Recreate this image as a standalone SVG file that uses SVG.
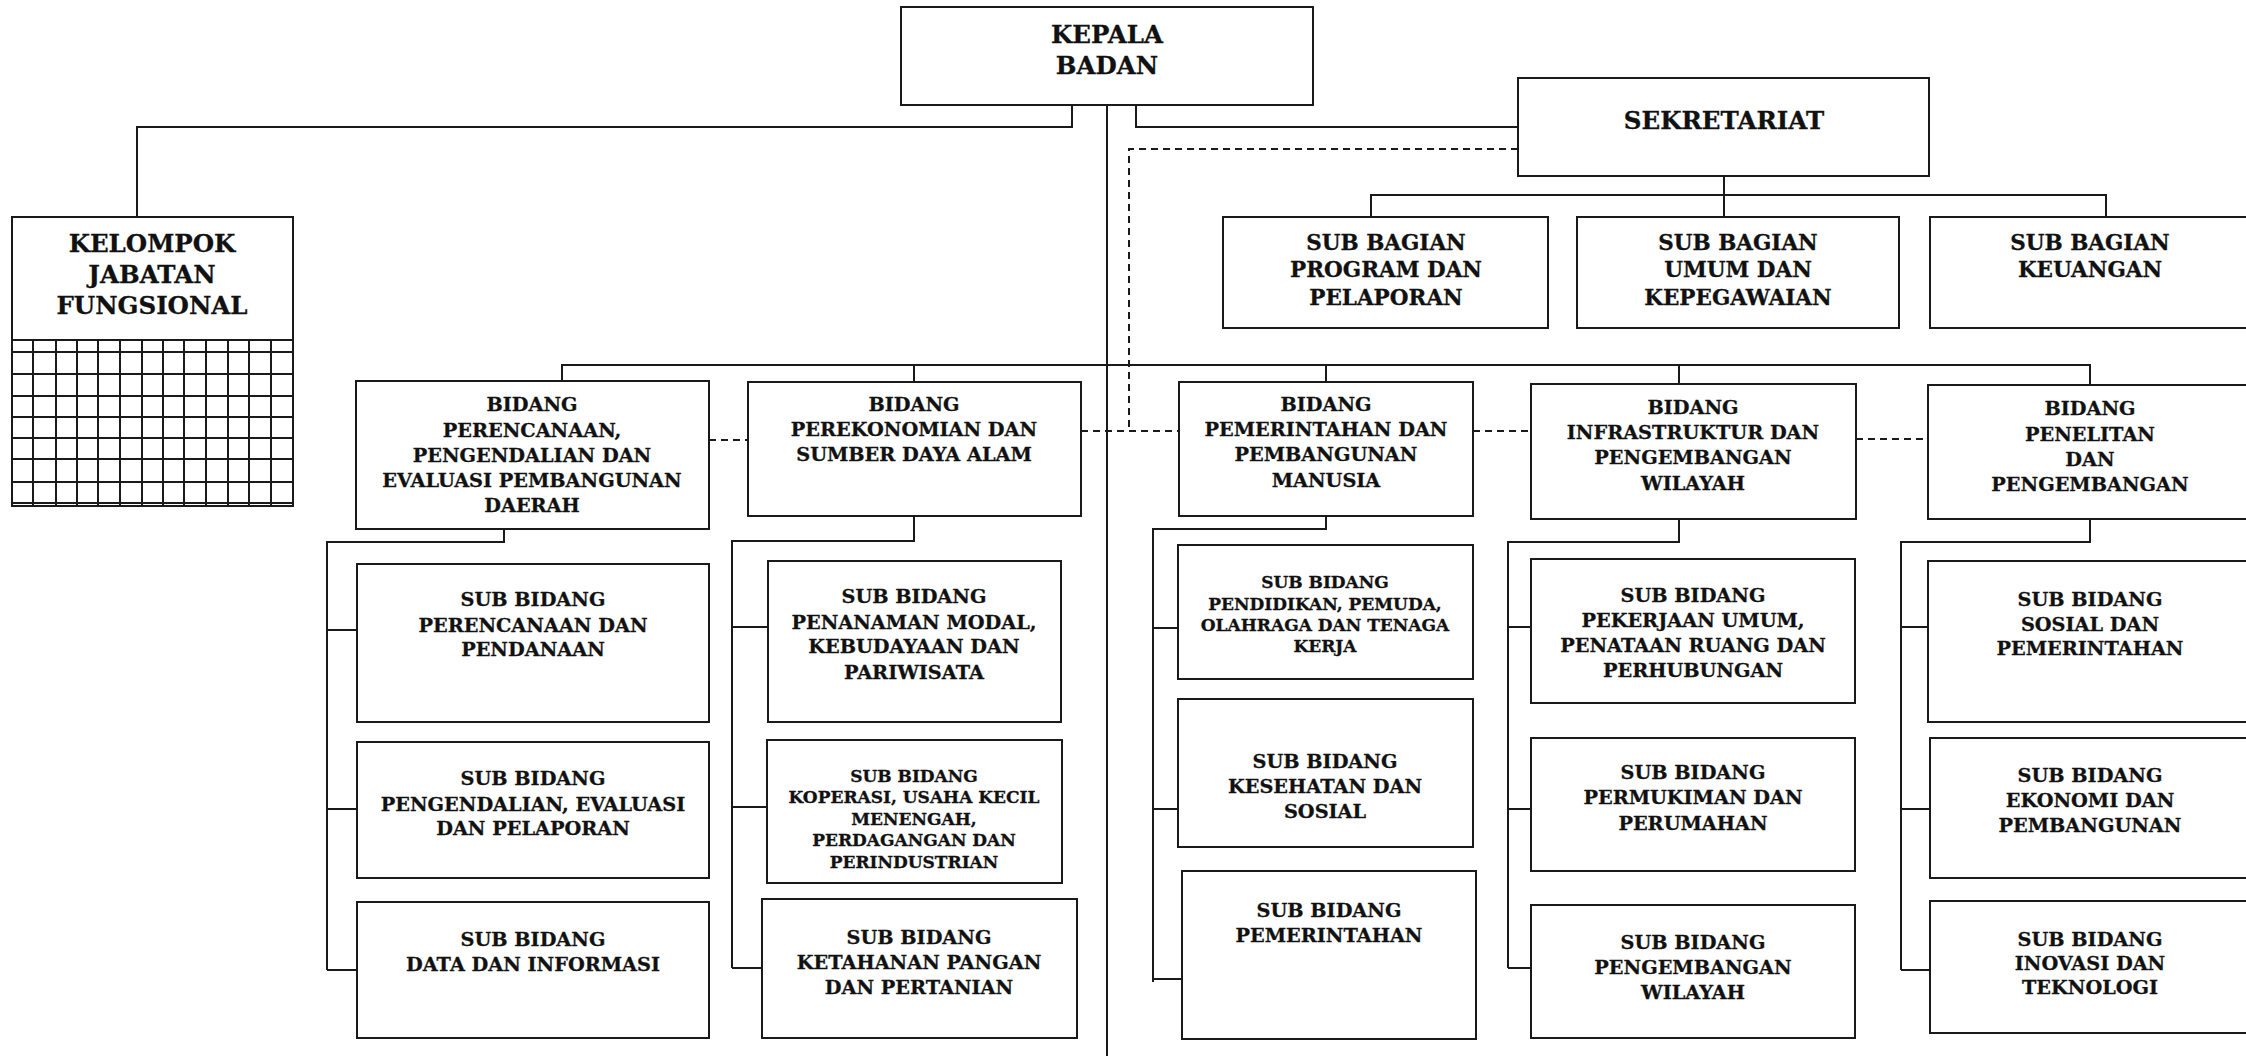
<svg xmlns="http://www.w3.org/2000/svg" width="2246" height="1056" viewBox="0 0 2246 1056">
<style>
.box{fill:#fff;stroke:#1a1a1a;stroke-width:2}
.t{font-family:"DejaVu Serif","Liberation Serif",serif;font-weight:bold;text-anchor:middle;fill:#111;stroke:#111;stroke-width:0.3}
.xl{font-size:24.5px}
.lg{font-size:21.5px}
.md{font-size:19.3px}
.sm{font-size:17px}
.ln{stroke:#1a1a1a;stroke-width:2;fill:none}
.dl{stroke:#1a1a1a;stroke-width:2;fill:none;stroke-dasharray:7 5}
.gr{stroke:#1a1a1a;stroke-width:2;fill:none}
</style>
<rect width="2246" height="1056" fill="#fff"/>

<g id="connectors">
  <path class="ln" d="M1107 105V1056"/>
  <path class="ln" d="M1072 105V127H137V217"/>
  <path class="ln" d="M1136 105V127H1518"/>
  <path class="dl" d="M1518 149H1129V431"/>
  <path class="ln" d="M1724 176V195"/>
  <path class="ln" d="M1371 217V195H2106V217"/>
  <path class="ln" d="M1724 195V217"/>
  <path class="ln" d="M562 381V365H2090V385"/>
  <path class="ln" d="M914 365V382"/>
  <path class="ln" d="M1326 365V382"/>
  <path class="ln" d="M1679 365V384"/>
  <path class="dl" d="M709 440H748"/>
  <path class="dl" d="M1081 431H1179"/>
  <path class="dl" d="M1473 431H1531"/>
  <path class="dl" d="M1856 439H1928"/>
  <path class="ln" d="M504 529V542H327V970"/>
  <path class="ln" d="M327 630H357M327 809H357M327 970H357"/>
  <path class="ln" d="M914 516V541H732V968"/>
  <path class="ln" d="M732 627H768M732 807H767M732 968H762"/>
  <path class="ln" d="M1326 516V529H1153V982"/>
  <path class="ln" d="M1153 628H1178M1153 809H1178M1153 979H1182"/>
  <path class="ln" d="M1679 519V542H1508V968"/>
  <path class="ln" d="M1508 627H1531M1508 809H1531M1508 968H1531"/>
  <path class="ln" d="M2090 519V542H1901V970"/>
  <path class="ln" d="M1901 627H1928M1901 809H1930M1901 970H1930"/>
</g>

<g id="kepala-badan">
  <rect class="box" x="901" y="7" width="412" height="98"/>
  <text class="t xl" x="1107" y="43">KEPALA</text>
  <text class="t xl" x="1107" y="74">BADAN</text>
</g>

<g id="kelompok-jabatan-fungsional">
  <rect class="box" x="12" y="217" width="281" height="289"/>
  <text class="t xl" x="152" y="252">KELOMPOK</text>
  <text class="t xl" x="152" y="283">JABATAN</text>
  <text class="t xl" x="152" y="314">FUNGSIONAL</text>
  <path class="gr" d="M12 340H293M12 352H293M12 374H293M12 396H293M12 417H293M12 438H293M12 459H293M12 482H293M12 503H293"/>
  <path class="gr" d="M33 340V506M56 340V506M77 340V506M98 340V506M120 340V506M142 340V506M163 340V506M184 340V506M206 340V506M228 340V506M249 340V506M271 340V506"/>
</g>

<g id="sekretariat">
  <rect class="box" x="1518" y="78" width="411" height="98"/>
  <text class="t xl" x="1724" y="129">SEKRETARIAT</text>
</g>

<g id="sub-bagian-program">
  <rect class="box" x="1223" y="217" width="325" height="111"/>
  <text class="t lg" x="1386" y="250">SUB BAGIAN</text>
  <text class="t lg" x="1386" y="277">PROGRAM DAN</text>
  <text class="t lg" x="1386" y="305">PELAPORAN</text>
</g>
<g id="sub-bagian-umum">
  <rect class="box" x="1577" y="217" width="322" height="111"/>
  <text class="t lg" x="1738" y="250">SUB BAGIAN</text>
  <text class="t lg" x="1738" y="277">UMUM DAN</text>
  <text class="t lg" x="1738" y="305">KEPEGAWAIAN</text>
</g>
<g id="sub-bagian-keuangan">
  <rect class="box" x="1930" y="217" width="330" height="111"/>
  <text class="t lg" x="2090" y="250">SUB BAGIAN</text>
  <text class="t lg" x="2090" y="277">KEUANGAN</text>
</g>

<g id="bidang-perencanaan">
  <rect class="box" x="356" y="381" width="353" height="148"/>
  <text class="t md" x="532" y="411">BIDANG</text>
  <text class="t md" x="532" y="437">PERENCANAAN,</text>
  <text class="t md" x="532" y="462">PENGENDALIAN DAN</text>
  <text class="t md" x="532" y="487">EVALUASI PEMBANGUNAN</text>
  <text class="t md" x="532" y="512">DAERAH</text>
</g>
<g id="bidang-perekonomian">
  <rect class="box" x="748" y="382" width="333" height="134"/>
  <text class="t md" x="914" y="411">BIDANG</text>
  <text class="t md" x="914" y="436">PEREKONOMIAN DAN</text>
  <text class="t md" x="914" y="461">SUMBER DAYA ALAM</text>
</g>
<g id="bidang-pemerintahan">
  <rect class="box" x="1179" y="382" width="294" height="134"/>
  <text class="t md" x="1326" y="411">BIDANG</text>
  <text class="t md" x="1326" y="436">PEMERINTAHAN DAN</text>
  <text class="t md" x="1326" y="461">PEMBANGUNAN</text>
  <text class="t md" x="1326" y="487">MANUSIA</text>
</g>
<g id="bidang-infrastruktur">
  <rect class="box" x="1531" y="384" width="325" height="135"/>
  <text class="t md" x="1693" y="414">BIDANG</text>
  <text class="t md" x="1693" y="439">INFRASTRUKTUR DAN</text>
  <text class="t md" x="1693" y="464">PENGEMBANGAN</text>
  <text class="t md" x="1693" y="490">WILAYAH</text>
</g>
<g id="bidang-penelitan">
  <rect class="box" x="1928" y="385" width="330" height="134"/>
  <text class="t md" x="2090" y="415">BIDANG</text>
  <text class="t md" x="2090" y="441">PENELITAN</text>
  <text class="t md" x="2090" y="466">DAN</text>
  <text class="t md" x="2090" y="491">PENGEMBANGAN</text>
</g>

<g id="sub-bidang-perencanaan-pendanaan">
  <rect class="box" x="357" y="564" width="352" height="158"/>
  <text class="t md" x="533" y="606">SUB BIDANG</text>
  <text class="t md" x="533" y="632">PERENCANAAN DAN</text>
  <text class="t md" x="533" y="656">PENDANAAN</text>
</g>
<g id="sub-bidang-pengendalian">
  <rect class="box" x="357" y="742" width="352" height="136"/>
  <text class="t md" x="533" y="785">SUB BIDANG</text>
  <text class="t md" x="533" y="811">PENGENDALIAN, EVALUASI</text>
  <text class="t md" x="533" y="835">DAN PELAPORAN</text>
</g>
<g id="sub-bidang-data">
  <rect class="box" x="357" y="902" width="352" height="136"/>
  <text class="t md" x="533" y="946">SUB BIDANG</text>
  <text class="t md" x="533" y="971">DATA DAN INFORMASI</text>
</g>

<g id="sub-bidang-penanaman-modal">
  <rect class="box" x="768" y="561" width="293" height="161"/>
  <text class="t md" x="914" y="603">SUB BIDANG</text>
  <text class="t md" x="914" y="629">PENANAMAN MODAL,</text>
  <text class="t md" x="914" y="653">KEBUDAYAAN DAN</text>
  <text class="t md" x="914" y="679">PARIWISATA</text>
</g>
<g id="sub-bidang-koperasi">
  <rect class="box" x="767" y="740" width="295" height="143"/>
  <text class="t sm" x="914" y="782">SUB BIDANG</text>
  <text class="t sm" x="914" y="803">KOPERASI, USAHA KECIL</text>
  <text class="t sm" x="914" y="825">MENENGAH,</text>
  <text class="t sm" x="914" y="846">PERDAGANGAN DAN</text>
  <text class="t sm" x="914" y="868">PERINDUSTRIAN</text>
</g>
<g id="sub-bidang-ketahanan-pangan">
  <rect class="box" x="762" y="899" width="315" height="139"/>
  <text class="t md" x="919" y="944">SUB BIDANG</text>
  <text class="t md" x="919" y="969">KETAHANAN PANGAN</text>
  <text class="t md" x="919" y="994">DAN PERTANIAN</text>
</g>

<g id="sub-bidang-pendidikan">
  <rect class="box" x="1178" y="545" width="295" height="134"/>
  <text class="t sm" x="1325" y="588">SUB BIDANG</text>
  <text class="t sm" x="1325" y="610">PENDIDIKAN, PEMUDA,</text>
  <text class="t sm" x="1325" y="631">OLAHRAGA DAN TENAGA</text>
  <text class="t sm" x="1325" y="652">KERJA</text>
</g>
<g id="sub-bidang-kesehatan">
  <rect class="box" x="1178" y="699" width="295" height="148"/>
  <text class="t md" x="1325" y="768">SUB BIDANG</text>
  <text class="t md" x="1325" y="793">KESEHATAN DAN</text>
  <text class="t md" x="1325" y="818">SOSIAL</text>
</g>
<g id="sub-bidang-pemerintahan">
  <rect class="box" x="1182" y="871" width="294" height="168"/>
  <text class="t md" x="1329" y="917">SUB BIDANG</text>
  <text class="t md" x="1329" y="942">PEMERINTAHAN</text>
</g>

<g id="sub-bidang-pekerjaan-umum">
  <rect class="box" x="1531" y="559" width="324" height="144"/>
  <text class="t md" x="1693" y="602">SUB BIDANG</text>
  <text class="t md" x="1693" y="627">PEKERJAAN UMUM,</text>
  <text class="t md" x="1693" y="652">PENATAAN RUANG DAN</text>
  <text class="t md" x="1693" y="677">PERHUBUNGAN</text>
</g>
<g id="sub-bidang-permukiman">
  <rect class="box" x="1531" y="738" width="324" height="133"/>
  <text class="t md" x="1693" y="779">SUB BIDANG</text>
  <text class="t md" x="1693" y="804">PERMUKIMAN DAN</text>
  <text class="t md" x="1693" y="830">PERUMAHAN</text>
</g>
<g id="sub-bidang-pengembangan-wilayah">
  <rect class="box" x="1531" y="905" width="324" height="133"/>
  <text class="t md" x="1693" y="949">SUB BIDANG</text>
  <text class="t md" x="1693" y="974">PENGEMBANGAN</text>
  <text class="t md" x="1693" y="999">WILAYAH</text>
</g>

<g id="sub-bidang-sosial">
  <rect class="box" x="1928" y="561" width="330" height="161"/>
  <text class="t md" x="2090" y="606">SUB BIDANG</text>
  <text class="t md" x="2090" y="631">SOSIAL DAN</text>
  <text class="t md" x="2090" y="655">PEMERINTAHAN</text>
</g>
<g id="sub-bidang-ekonomi">
  <rect class="box" x="1930" y="738" width="330" height="140"/>
  <text class="t md" x="2090" y="782">SUB BIDANG</text>
  <text class="t md" x="2090" y="807">EKONOMI DAN</text>
  <text class="t md" x="2090" y="832">PEMBANGUNAN</text>
</g>
<g id="sub-bidang-inovasi">
  <rect class="box" x="1930" y="901" width="330" height="132"/>
  <text class="t md" x="2090" y="946">SUB BIDANG</text>
  <text class="t md" x="2090" y="970">INOVASI DAN</text>
  <text class="t md" x="2090" y="994">TEKNOLOGI</text>
</g>
</svg>
